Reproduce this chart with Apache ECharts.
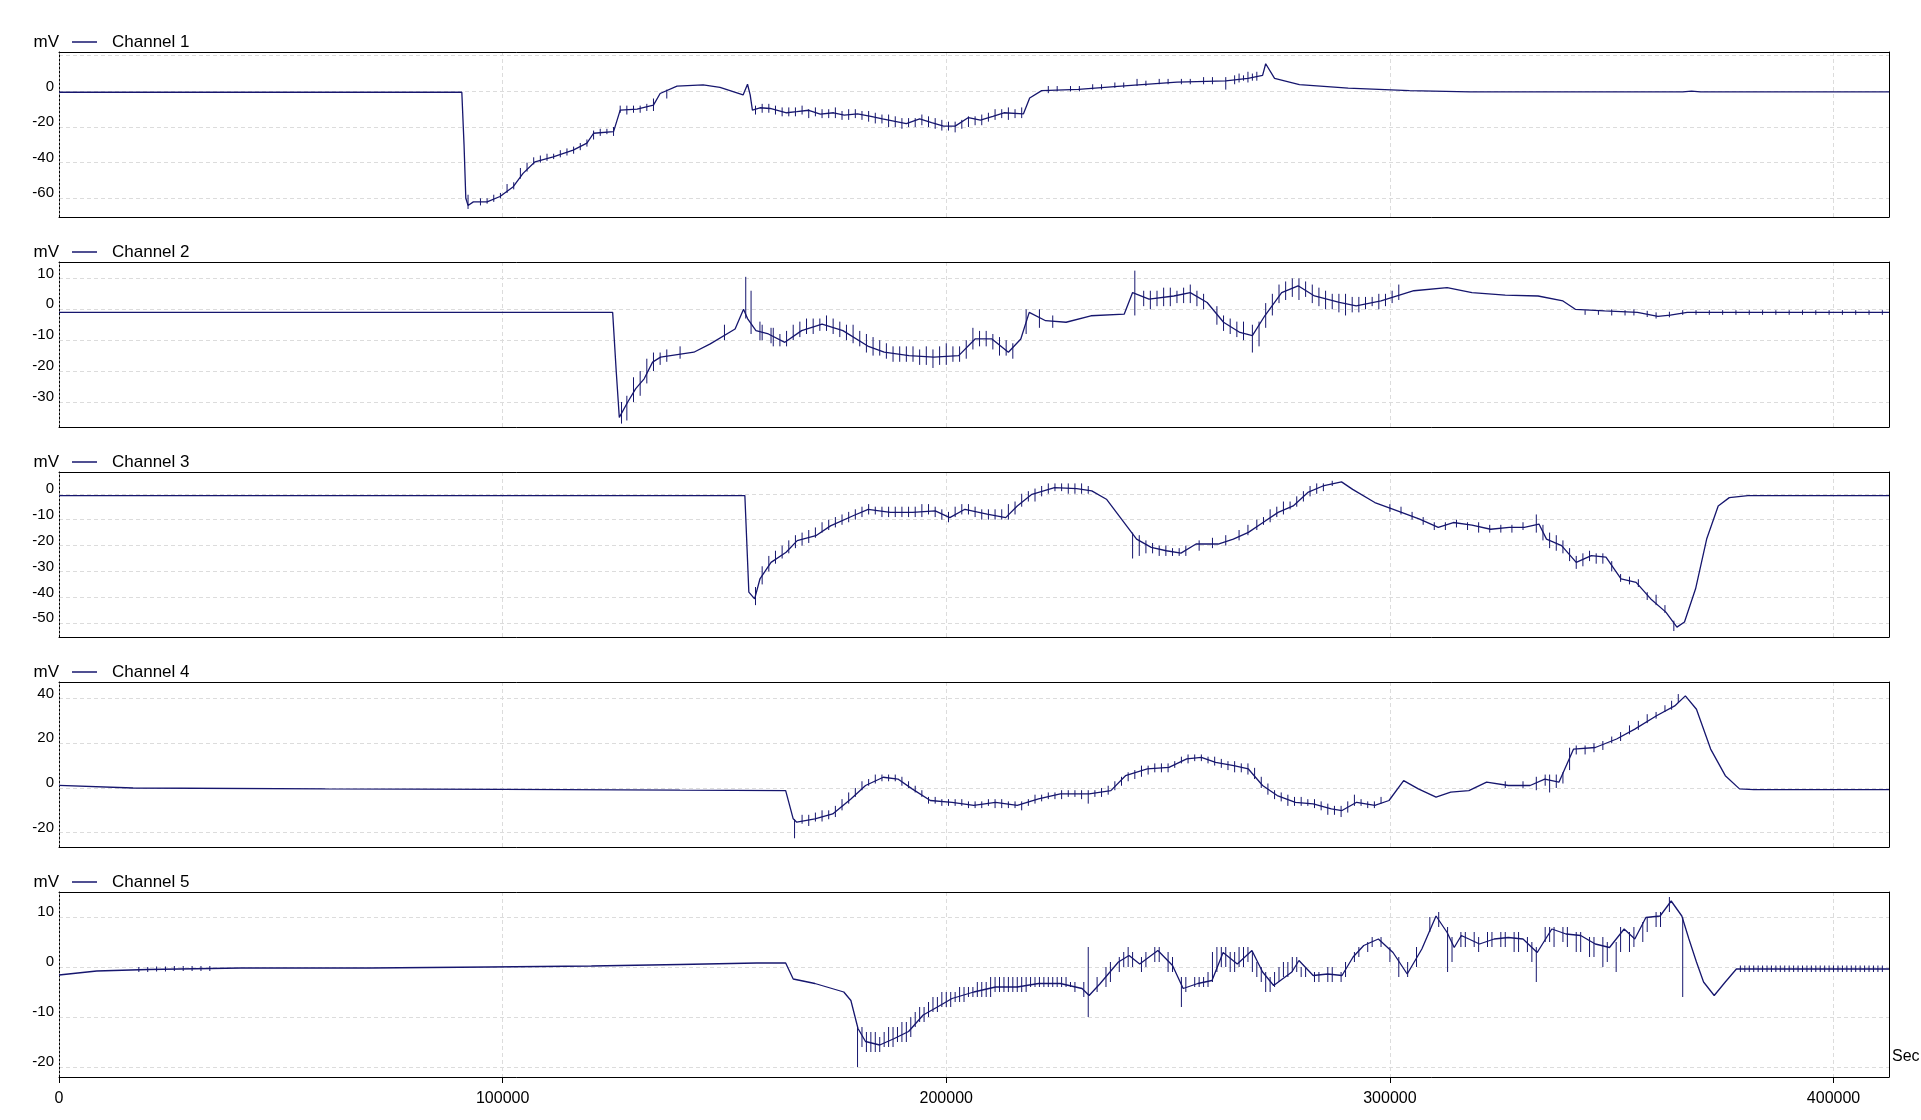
<!DOCTYPE html>
<html>
<head>
<meta charset="utf-8">
<title>Channels 1-5</title>
<script src="https://cdn.jsdelivr.net/npm/echarts@6/dist/echarts.min.js"></script>
<style>
  html, body { margin: 0; padding: 0; background: #fff; }
  #chart { width: 1921px; height: 1120px; }
</style>
</head>
<body>
<div id="chart"></div>
<script>
const channelNames = ['Channel 1', 'Channel 2', 'Channel 3', 'Channel 4', 'Channel 5'];

// main traces, [sec, mV]
const ch1 = [
  [0, -0.5], [90800, -0.5], [91300, -30], [91700, -60], [92200, -64], [93400, -62], [96500, -62],
  [99400, -59], [102400, -53.5], [104600, -46], [107300, -39.5], [111400, -36.7], [115900, -33],
  [119000, -29], [120500, -23.5], [125000, -22.6], [126500, -10.5], [130300, -10], [134000, -7.7],
  [135500, -1.2], [139300, 3], [145200, 3.6], [149000, 2.3], [154200, -2], [155200, 4], [155800, -2],
  [156300, -10.5], [158000, -9.2], [160300, -9.6], [164000, -12], [166300, -11.4], [169000, -10.6],
  [171600, -12.8], [174600, -12], [177000, -13.3], [180000, -12.6], [183000, -14], [185600, -15.4],
  [191000, -18.1], [194000, -15.4], [196700, -17.5], [199400, -19.5], [202000, -19.5], [205000, -14.7],
  [207700, -16.1], [210500, -14], [213000, -12], [217400, -12.6], [218800, -3.7], [221500, 0.4],
  [229800, 1.1], [240900, 3.2], [252000, 5.2], [263000, 5.9], [268000, 7.3], [271300, 9], [272000, 15.5],
  [274000, 7.3], [279600, 3.8], [290600, 1.8], [304400, 0.4], [318000, -0.3], [366000, -0.3],
  [368000, 0.2], [370000, -0.3], [412500, -0.3]
];
const ch2 = [
  [0, -1], [124800, -1], [125600, -20], [126300, -35], [128200, -30], [130000, -25.7], [131900, -22.5],
  [133800, -17.1], [135600, -15.5], [143100, -13.9], [146800, -11.2], [152400, -6.4], [154300, 0],
  [155200, -3], [157100, -6.9], [159900, -8], [163600, -10.7], [167400, -6.9], [172000, -4.8],
  [176700, -6.9], [182300, -11.9], [186000, -13.9], [191600, -15], [197200, -15.5], [202800, -15],
  [206500, -9.6], [210300, -9.6], [214000, -13.9], [216800, -9.6], [218700, -1], [222400, -3.7],
  [227000, -4.2], [232600, -2.1], [240100, -1.6], [242000, 5.4], [245700, 3.3], [251300, 4.3],
  [255000, 5.4], [258800, 2.2], [262500, -4.2], [266200, -7.5], [269000, -8.5], [271800, -2.1],
  [275600, 5.4], [279300, 7.6], [283000, 4.3], [288600, 2.2], [292400, 1.1], [298000, 2.7],
  [305400, 6], [312900, 7], [318500, 5.4], [326000, 4.6], [333400, 4.3], [339000, 2.7], [341800, 0],
  [348400, -0.5], [355800, -1], [360400, -2.3], [363200, -1.9], [367000, -1], [412500, -1]
];
const ch3 = [
  [0, -0.7], [154600, -0.7], [155500, -38], [156800, -40.6], [158000, -32.9], [160500, -26.5],
  [163900, -22.6], [166400, -18.1], [170600, -16.2], [173900, -12.4], [179000, -8.5], [182400, -6],
  [187400, -7.2], [192400, -7.2], [197500, -6.6], [200800, -9.2], [204200, -6], [209200, -7.9],
  [213400, -9.2], [216000, -4.7], [219300, -0.2], [224400, 2.4], [229400, 2], [232800, 1.1],
  [236100, -2.1], [239500, -9.8], [242900, -17.5], [246200, -20.7], [249600, -22], [252900, -22.9],
  [256300, -19.4], [261300, -19.4], [264700, -17.5], [268100, -14.9], [271400, -11.1], [274800, -7.2],
  [278200, -4.7], [281500, 0.5], [284900, 3], [289100, 4.6], [291600, 1.7], [296600, -3.4],
  [301700, -6.6], [306700, -9.8], [310900, -13], [314300, -11.1], [318500, -12.1], [322700, -13.7],
  [326900, -13], [330300, -13], [333600, -11.7], [335300, -17.5], [338700, -20], [342000, -26.5],
  [345400, -23.9], [348700, -24.5], [352100, -32.9], [355500, -34.2], [358800, -40.6], [362200, -45.7],
  [364700, -51.5], [366400, -49.5], [368900, -36.7], [371400, -17.5], [374000, -4.7], [376500, -1.5],
  [380700, -0.7], [412500, -0.7]
];
const ch4 = [
  [0, 1.2], [16700, 0], [60000, -0.4], [100000, -0.6], [140000, -1], [163800, -1.2], [165500, -13.8],
  [166300, -15.3], [170400, -13.8], [174400, -11.6], [178500, -4.9], [181800, 1.1], [185800, 4.8],
  [189100, 4], [192300, -0.4], [196400, -5.6], [201300, -6.4], [206200, -7.8], [211100, -6.4],
  [216000, -7.8], [220800, -4.9], [225700, -2.6], [232200, -2.6], [237100, -1.2], [240400, 5.5],
  [245300, 8.5], [250200, 9.2], [254200, 13], [257500, 13.7], [260700, 11.5], [264800, 10],
  [268100, 8.5], [271300, 1.1], [274600, -3.4], [278700, -6.4], [282700, -7.1], [286800, -9.3],
  [289200, -10.1], [292500, -6.4], [296600, -7.8], [299800, -5.6], [303100, 3.3], [306400, -0.4],
  [310400, -4.1], [313700, -1.9], [317800, -1.2], [321800, 2.6], [326700, 1.1], [331600, 1.1],
  [334900, 4], [338100, 2.6], [341400, 17.4], [346300, 18.1], [351100, 21.9], [355200, 26.3],
  [360100, 32.3], [364200, 36.7], [366600, 41.2], [369100, 35.2], [372300, 17.4], [375600, 5.5],
  [378800, -0.4], [382000, -0.7], [412500, -0.7]
];
const ch5 = [
  [0, -1.6], [8500, -0.8], [20000, -0.5], [41000, -0.2], [70000, -0.2], [97000, 0], [120000, 0.2],
  [140000, 0.5], [157300, 0.8], [163800, 0.8], [165500, -2.4], [170400, -3.3], [176900, -5],
  [178500, -6.7], [180100, -12.3], [181800, -14.9], [185000, -15.6], [188300, -14.3], [191500, -12.9],
  [194800, -9.6], [198000, -8], [201300, -6.3], [206200, -5], [211100, -4], [216000, -4], [220800, -3.3],
  [225700, -3.3], [230600, -4.3], [232200, -5.7], [234700, -3.3], [238800, 1], [241200, 2.3],
  [243600, 0.6], [247700, 3.3], [251000, 0.3], [253400, -4.3], [256700, -3.3], [259900, -2.7],
  [262400, 2.9], [265600, 0.6], [268900, 3.3], [271300, -1], [273800, -3.7], [277900, -1],
  [279500, 1.3], [282700, -1.7], [286000, -1.4], [289200, -1.7], [291700, 2], [294100, 4.3],
  [297400, 5.6], [300700, 2.9], [303900, -1.4], [307200, 3.6], [310400, 10.2], [312900, 6.9],
  [314500, 3.9], [316100, 6.3], [320200, 4.6], [323500, 5.6], [326700, 5.9], [330000, 5.6],
  [333200, 2.9], [336500, 7.6], [339700, 6.6], [343000, 6.3], [346300, 4.6], [349500, 3.9],
  [352800, 7.6], [355200, 5.6], [357700, 9.9], [360900, 10.2], [363400, 13.2], [365800, 10.2],
  [367400, 5.6], [369100, 1], [370700, -3], [373100, -5.7], [375600, -3], [378100, -0.4], [412500, -0.4]
];

// short vertical noise ticks, [sec, low mV, high mV]
const ch1Ticks = [
  [92200, -66, -58], [95000, -64, -60], [96500, -63, -60], [98000, -62, -58], [99500, -60, -57],
  [101000, -57, -52], [102500, -55, -51], [104000, -49, -43], [105500, -45, -40], [107000, -41, -37],
  [108500, -40, -36], [110000, -39, -35], [111500, -38, -35], [113000, -37, -33], [114500, -36, -32],
  [116000, -35, -31], [117500, -33, -29], [119000, -31, -27], [120500, -27, -22], [122000, -25, -21],
  [123500, -24, -21], [125000, -25, -20], [126500, -12, -8], [128000, -13, -8], [129500, -12, -8],
  [131000, -12, -8], [132500, -11, -7], [134000, -11, -4], [137000, -4, 1],
  [157000, -13, -8], [158500, -12, -7], [160000, -12, -7], [161500, -13, -8], [163000, -14, -9],
  [164500, -14, -9], [166000, -14, -9], [167500, -13, -8], [169000, -15, -10], [170500, -14, -9],
  [172000, -15, -10], [173500, -15, -10], [175000, -15, -9], [176500, -16, -11], [178000, -16, -10],
  [179500, -15, -10], [181000, -16, -11], [182500, -17, -11], [184000, -18, -12], [185500, -18, -13],
  [187000, -20, -13], [188500, -20, -14], [190000, -21, -15], [191500, -20, -15], [193000, -20, -15],
  [194500, -19, -13], [196000, -20, -14], [197500, -21, -15], [199000, -22, -16], [200500, -22, -17],
  [202000, -23, -17], [203500, -21, -16], [205000, -20, -14], [206500, -19, -14], [208000, -19, -13],
  [209500, -17, -12], [211000, -16, -10], [212500, -15, -10], [214000, -16, -9], [215500, -15, -10],
  [217000, -15, -9], [223000, -1, 3], [225000, 0, 3], [228000, 0, 3], [230000, 0, 3], [233000, 1, 4],
  [235000, 1, 4], [238000, 2, 5], [240000, 2, 5], [243000, 3, 7], [245000, 3, 6], [248000, 4, 7],
  [250000, 4, 7], [253000, 4, 7], [255000, 4, 7], [258000, 4, 8], [260000, 4, 8], [263000, 1, 8],
  [265000, 4, 9], [266000, 5, 10], [267000, 6, 9], [268000, 5, 11], [269000, 6, 10], [270000, 6, 11]
];
const ch2Ticks = [
  [126800, -37, -30], [128000, -36, -28], [129500, -30, -22], [131000, -28, -20], [132500, -24, -16],
  [134000, -20, -14], [135500, -18, -14], [137000, -17, -13], [140000, -16, -12], [150000, -10, -5],
  [154800, -3, 10.5], [156000, -8, 6], [158000, -10, -4], [158500, -10, -5], [160500, -11, -6],
  [161000, -12, -6], [162500, -12, -8], [164000, -12, -7], [165500, -10, -5], [167000, -9, -4],
  [168500, -8, -3], [170000, -8, -3], [171500, -7, -3], [173000, -7, -2], [174500, -8, -3],
  [176000, -9, -4], [177500, -10, -5], [179000, -11, -5], [180500, -12, -7], [182000, -14, -8],
  [183500, -15, -9], [185000, -15, -10], [186500, -16, -11], [188000, -17, -12], [189500, -17, -12],
  [191000, -17, -12], [192500, -17, -12], [194000, -18, -13], [195500, -18, -12], [197000, -19, -13],
  [198500, -18, -12], [200000, -18, -11], [201500, -17, -12], [203000, -17, -12], [204500, -16, -10],
  [206000, -13, -6], [207500, -12, -7], [209000, -12, -7], [210500, -13, -8], [212000, -15, -9],
  [213500, -15, -10], [215000, -16, -11], [218000, -8, 0], [221000, -6, 0], [224000, -6, -2],
  [242500, -2, 12.5], [244500, 1, 6], [246000, 0, 6], [247500, 1, 6], [249000, 1, 7], [250500, 1, 7],
  [252000, 2, 6], [253500, 2, 7], [255000, 2, 8], [256500, 1, 6], [258000, 0, 5], [261000, -5, 1],
  [262500, -7, -2], [264000, -8, -3], [265500, -9, -4], [267000, -10, -4], [269000, -14, -5],
  [270500, -12, -4], [272000, -6, 2], [273500, -2, 5], [275000, 2, 8], [276500, 3, 9], [278000, 4, 10],
  [279500, 3, 10], [281000, 4, 9], [282500, 2, 8], [284000, 1, 7], [285500, 0, 6], [287000, 0, 5],
  [288500, -1, 5], [290000, -2, 5], [291500, -1, 4], [293000, -1, 4], [294500, 0, 4], [296000, 1, 4],
  [297500, 0, 5], [299000, 1, 5], [300500, 2, 6], [302000, 3, 8], [344000, -1.8, -0.3],
  [347000, -1.8, -0.3], [350000, -2, 0], [353000, -2, -0.3], [355000, -2, 0], [358000, -2.5, -0.5],
  [360000, -3, -1], [363000, -2.6, -0.8], [366000, -1.8, -0.3], [369000, -1.8, -0.3],
  [372000, -1.8, -0.3], [375000, -1.8, -0.3], [378000, -1.8, -0.3], [381000, -1.8, -0.3],
  [384000, -1.8, -0.3], [387000, -1.8, -0.3], [390000, -1.8, -0.3], [393000, -1.8, -0.3],
  [396000, -1.8, -0.3], [399000, -1.8, -0.3], [402000, -1.8, -0.3], [405000, -1.8, -0.3],
  [408000, -1.8, -0.3], [411000, -1.8, -0.3]
];
const ch3Ticks = [
  [157000, -43, -36], [158500, -35, -28], [160000, -30, -24], [161500, -27, -22], [163000, -25, -20],
  [164500, -23, -18], [166000, -21, -16], [167500, -20, -15], [169000, -19, -14], [170500, -17, -13],
  [172000, -15, -11], [173500, -14, -10], [175000, -13, -9], [176500, -12, -8], [178000, -11, -7],
  [179500, -10, -6], [181000, -9, -5], [182500, -8, -4], [184000, -8, -5], [185500, -9, -5],
  [187000, -9, -5], [188500, -9, -5], [190000, -9, -5], [191500, -9, -5], [193000, -9, -5],
  [194500, -9, -4], [196000, -8, -4], [197500, -9, -5], [199000, -10, -6], [200500, -11, -7],
  [202000, -9, -5], [203500, -8, -4], [205000, -8, -4], [206500, -9, -5], [208000, -10, -6],
  [209500, -10, -6], [211000, -10, -6], [212500, -10, -6], [214000, -10, -4], [215500, -8, -3],
  [217000, -5, 0], [218500, -3, 1], [220000, -3, 2], [221500, -1, 3], [223000, 0, 4], [224500, 1, 4],
  [226000, 1, 4], [227500, 0, 4], [229000, 0, 4], [230500, 0, 4], [232000, 0, 3],
  [242000, -25, -15], [243500, -24, -16], [245000, -23, -18], [246500, -23, -19], [248000, -24, -20],
  [249500, -24, -20], [251000, -24, -21], [252500, -24, -21], [254000, -24, -20], [257000, -22, -18],
  [260000, -21, -17], [263000, -20, -16], [266000, -18, -14], [268000, -16, -12], [270000, -14, -10],
  [271500, -12, -9], [273000, -11, -6], [274500, -9, -5], [276000, -8, -3], [277500, -6, -3],
  [279000, -5, -1], [280500, -3, 1], [282000, -1, 3], [283500, 0, 4], [285000, 1, 4], [287000, 3, 5],
  [300000, -7, -4], [302500, -8, -5], [305000, -10, -7], [307500, -12, -9], [310000, -14, -11],
  [312500, -14, -11], [315000, -13, -10], [317500, -14, -11], [320000, -15, -11], [322500, -15, -12],
  [325000, -15, -12], [327500, -15, -12], [330000, -14, -11], [333000, -15, -8], [334500, -18, -12],
  [336000, -21, -15], [337500, -22, -16], [339000, -23, -18], [340500, -26, -21], [342000, -29, -24],
  [343500, -28, -23], [345000, -26, -22], [346500, -27, -23], [348000, -27, -23], [350000, -30, -26],
  [352000, -34, -31], [354000, -35, -32], [356000, -36, -33], [358000, -41, -38], [360000, -43, -39],
  [362000, -46, -43], [364000, -53, -49]
];
const ch4Ticks = [
  [165800, -22.5, -14], [167500, -16, -12], [169000, -17, -12], [170500, -15, -11], [172000, -15, -10],
  [173500, -14, -10], [175000, -13, -8], [176500, -10, -5], [178000, -7, -2], [179500, -4, 0],
  [181000, -1, 3], [182500, 1, 4], [184000, 2, 6], [185500, 3, 6], [187000, 3, 6], [188500, 3, 6],
  [190000, 1, 5], [191500, 0, 3], [193000, -2, 1], [194500, -4, -1], [196000, -7, -4], [197500, -7, -4],
  [199000, -8, -5], [200500, -8, -5], [202000, -8, -5], [203500, -8, -5], [205000, -9, -6],
  [206500, -9, -6], [208000, -9, -6], [209500, -8, -5], [211000, -9, -5], [212500, -9, -5],
  [214000, -9, -6], [215500, -9, -6], [217000, -10, -6], [218500, -8, -5], [220000, -7, -3],
  [221500, -6, -3], [223000, -5, -2], [224500, -5, -2], [226000, -5, -1], [227500, -4, -1],
  [229000, -4, -1], [230500, -5, -1], [232000, -7, -1], [233500, -4, -1], [235000, -4, 0],
  [236500, -3, 1], [238000, -1, 3], [239500, 1, 5], [241000, 3, 7], [242500, 4, 8], [244000, 5, 10],
  [245500, 6, 10], [247000, 7, 11], [248500, 7, 11], [250000, 7, 11], [251500, 9, 12], [253000, 11, 14],
  [254500, 11, 15], [256000, 12, 15], [257500, 12, 15], [259000, 11, 14], [260500, 10, 14],
  [262000, 9, 13], [263500, 8, 12], [265000, 7, 12], [266500, 7, 11], [268000, 6, 11], [269500, 4, 9],
  [271000, 0, 5], [272500, -3, 2], [274000, -5, -1], [275500, -6, -2], [277000, -8, -3],
  [278500, -8, -4], [280000, -8, -4], [281500, -8, -5], [283000, -9, -5], [284500, -10, -6],
  [286000, -12, -7], [287500, -12, -8], [289000, -13, -8], [290500, -11, -6], [292000, -8, -3],
  [293500, -8, -5], [295000, -9, -6], [296500, -9, -6], [298000, -7, -4], [326000, 0, 3],
  [330000, 0, 3], [333000, -1, 5], [335000, 1, 6], [336000, -2, 6], [337500, 0, 6], [339000, 2, 7],
  [340500, 8, 18], [342000, 15, 19], [344000, 15, 19], [346000, 16, 20], [348000, 17, 21],
  [350000, 20, 23], [352000, 21, 25], [354000, 24, 28], [356000, 26, 30], [358000, 29, 33],
  [360000, 31, 34], [362000, 34, 37], [363500, 35, 39], [365000, 38, 42]
];
const ch5Ticks = [
  [18000, -1, 0], [20000, -1, 0], [22000, -0.9, 0.1], [24000, -0.9, 0.1], [26000, -0.8, 0.2],
  [28000, -0.8, 0.2], [30000, -0.8, 0.2], [32000, -0.8, 0.2], [34000, -0.8, 0.2],
  [180000, -20, -12], [181000, -16, -12], [182000, -17, -13], [183000, -17, -13], [184000, -17, -13],
  [185000, -17, -14], [186000, -16, -13], [187000, -16, -12], [188000, -16, -12], [189000, -15, -12],
  [190000, -15, -11], [191000, -15, -11], [192000, -14, -10], [193000, -12, -9], [194000, -11, -8],
  [195000, -11, -8], [196000, -10, -7], [197000, -9, -6], [198000, -9, -6], [199000, -8, -5],
  [200000, -8, -5], [201000, -8, -5], [202000, -7, -5], [203000, -7, -4], [204000, -7, -4],
  [205000, -6, -4], [206000, -6, -4], [207000, -6, -3], [208000, -6, -3], [209000, -6, -3],
  [210000, -6, -2], [211000, -5, -2], [212000, -5, -2], [213000, -5, -2], [214000, -5, -2],
  [215000, -5, -2], [216000, -5, -2], [217000, -5, -2], [218000, -5, -2], [219000, -4, -2],
  [220000, -4, -2], [221000, -4, -2], [222000, -4, -2], [223000, -4, -2], [224000, -4, -2],
  [225000, -4, -2], [226000, -4, -2], [227000, -4, -2], [228000, -4, -3], [229000, -5, -3],
  [231000, -6, -3], [232000, -10, 4], [234000, -5, -2], [236000, -4, 0], [237000, -3, 1],
  [239000, -1, 2], [240000, 0, 3], [241000, 0, 4], [242000, 0, 3], [244000, -1, 2], [245000, 0, 3],
  [247000, 1, 4], [248000, 1, 4], [250000, -1, 3], [251000, -1, 2], [253000, -8, -2], [254000, -5, -2],
  [256000, -4, -2], [257000, -4, -2], [258000, -4, -2], [259000, -4, -1], [260000, -3, 3],
  [261000, -1, 4], [262000, 0, 4], [263000, 0, 4], [264000, -1, 3], [265000, -1, 3], [266000, 0, 4],
  [267000, 0, 4], [268000, 1, 4], [269000, -1, 3], [270000, -2, 1], [271000, -3, 0], [272000, -5, -1],
  [273000, -5, -2], [274000, -4, -1], [275000, -3, 0], [276000, -2, 1], [277000, -2, 1],
  [278000, -1, 2], [279000, -1, 2], [280000, -2, 0], [281000, -2, 0], [283000, -3, -1], [284000, -3, -1],
  [286000, -3, 0], [287000, -3, 0], [289000, -3, -1], [290000, -2, 1], [292000, 1, 3], [293000, 2, 4],
  [295000, 3, 5], [296000, 4, 6], [298000, 4, 6], [300000, 1, 4], [302000, -2, 2], [304000, -2, 1],
  [306000, 0, 4], [309000, 7, 10], [311000, 8, 11], [313000, -1, 8], [314000, 1, 6], [316000, 4, 7],
  [317000, 4, 7], [319000, 4, 7], [320000, 3, 6], [322000, 4, 7], [323000, 4, 7], [325000, 4, 7],
  [326000, 4, 7], [328000, 3, 7], [329000, 3, 7], [331000, 3, 6], [332000, 1, 5], [333000, -3, 4],
  [335000, 5, 8], [336000, 5, 8], [337000, 4, 8], [339000, 5, 8], [340000, 4, 8], [342000, 3, 7],
  [343000, 3, 7], [345000, 2, 6], [346000, 2, 6], [348000, 0, 6], [349000, 1, 5], [351000, -1, 5],
  [352000, 3, 8], [354000, 3, 7], [355000, 4, 8], [357000, 5, 9], [358000, 7, 10], [360000, 8, 11],
  [361000, 8, 11], [363000, 11, 14], [366000, -6, 10],
  [379000, -1, 0.3], [380000, -1, 0.3], [381000, -1, 0.3], [382000, -1, 0.3], [383000, -1, 0.3],
  [384000, -1, 0.3], [385000, -1, 0.3], [386000, -1, 0.3], [387000, -1, 0.3], [388000, -1, 0.3],
  [389000, -1, 0.3], [390000, -1, 0.3], [391000, -1, 0.3], [392000, -1, 0.3], [393000, -1, 0.3],
  [394000, -1, 0.3], [395000, -1, 0.3], [396000, -1, 0.3], [397000, -1, 0.3], [398000, -1, 0.3],
  [399000, -1, 0.3], [400000, -1, 0.3], [401000, -1, 0.3], [402000, -1, 0.3], [403000, -1, 0.3],
  [404000, -1, 0.3], [405000, -1, 0.3], [406000, -1, 0.3], [407000, -1, 0.3], [408000, -1, 0.3],
  [409000, -1, 0.3], [410000, -1, 0.3], [411000, -1, 0.3]
];

const traces = [ch1, ch2, ch3, ch4, ch5];
const ticks = [ch1Ticks, ch2Ticks, ch3Ticks, ch4Ticks, ch5Ticks];

const lineColor = '#16166e';
const font = "'Liberation Sans', Arial, sans-serif";
const xMax = 412500;

// grid layout per panel; hide = tick value drawn without a label
const panels = [
  { top: 52, height: 165, min: -70.5, max: 22.1, split: 5, hide: 20 },
  { top: 262, height: 165, min: -38.1, max: 15.3, split: 5 },
  { top: 472, height: 165, min: -55.3, max: 8.4, split: 5 },
  { top: 682, height: 165, min: -26.4, max: 47.4, split: 3 },
  { top: 892, height: 185, min: -22, max: 15, split: 5 }
];

const gridLine = { show: true, lineStyle: { color: '#dcdcdc', type: [4, 3], width: 1 } };

function renderTick(params, api) {
  const a = api.coord([api.value(0), api.value(1)]);
  const b = api.coord([api.value(0), api.value(2)]);
  return {
    type: 'line',
    shape: { x1: a[0], y1: a[1], x2: b[0], y2: b[1] },
    style: { stroke: lineColor, lineWidth: 1 }
  };
}

const grid = [], xAxis = [], yAxis = [], series = [], legend = [];

panels.forEach((p, i) => {
  const last = i === panels.length - 1;
  grid.push({ left: 59, right: 32, top: p.top, height: p.height });

  xAxis.push({
    gridIndex: i, type: 'value', min: 0, max: xMax, interval: 100000, position: 'bottom',
    axisLine: { show: true, onZero: false, lineStyle: { color: '#000', width: 1 } },
    axisTick: { show: last, length: 6, lineStyle: { color: '#000' } },
    axisLabel: {
      show: last, color: '#000', fontFamily: font, fontSize: 16, margin: 14,
      showMaxLabel: false, formatter: v => String(v)
    },
    splitLine: gridLine,
    name: last ? 'Sec' : '',
    nameLocation: 'end', nameGap: 3,
    nameTextStyle: { color: '#000', fontFamily: font, fontSize: 16, verticalAlign: 'bottom', lineHeight: 40 }
  });
  xAxis.push({
    gridIndex: i, type: 'value', min: 0, max: xMax, position: 'top',
    axisLine: { show: true, onZero: false, lineStyle: { color: '#000', width: 1 } },
    axisTick: { show: false }, axisLabel: { show: false }, splitLine: { show: false }
  });

  yAxis.push({
    gridIndex: i, type: 'value', min: p.min, max: p.max, splitNumber: p.split, position: 'left',
    axisLine: { show: true, onZero: false, lineStyle: { color: '#000', type: [2, 2], width: 1 } },
    axisTick: { show: false },
    axisLabel: {
      color: '#000', fontFamily: font, fontSize: 15, margin: 5,
      verticalAlign: 'bottom', lineHeight: 10,
      showMinLabel: false, showMaxLabel: false,
      formatter: v => (v === p.hide ? '' : String(v))
    },
    splitLine: gridLine,
    name: 'mV', nameLocation: 'end', nameGap: 10,
    nameTextStyle: { color: '#000', fontFamily: font, fontSize: 17, align: 'right', verticalAlign: 'middle' }
  });
  yAxis.push({
    gridIndex: i, type: 'value', min: p.min, max: p.max, position: 'right',
    axisLine: { show: true, onZero: false, lineStyle: { color: '#000', width: 1 } },
    axisTick: { show: false }, axisLabel: { show: false }, splitLine: { show: false }
  });

  series.push({
    name: channelNames[i], type: 'line', xAxisIndex: 2 * i, yAxisIndex: 2 * i,
    data: traces[i], symbol: 'none', lineStyle: { color: lineColor, width: 1.3 },
    itemStyle: { color: lineColor }, z: 3
  });
  series.push({
    name: channelNames[i] + ' ticks', type: 'custom', xAxisIndex: 2 * i, yAxisIndex: 2 * i,
    data: ticks[i], encode: { x: 0, y: [1, 2] }, renderItem: renderTick, z: 3
  });

  legend.push({
    data: [{ name: channelNames[i], icon: 'rect' }], left: 72, top: p.top - 19, padding: 0,
    itemWidth: 25, itemHeight: 1.5, selectedMode: false,
    textStyle: { color: '#000', fontFamily: font, fontSize: 17, lineHeight: 18, padding: [0, 0, 0, 10] }
  });
});

const chart = echarts.init(document.getElementById('chart'), null, { renderer: 'canvas' });
chart.setOption({
  animation: false,
  backgroundColor: '#fff',
  grid, xAxis, yAxis, series, legend
});
</script>
</body>
</html>
